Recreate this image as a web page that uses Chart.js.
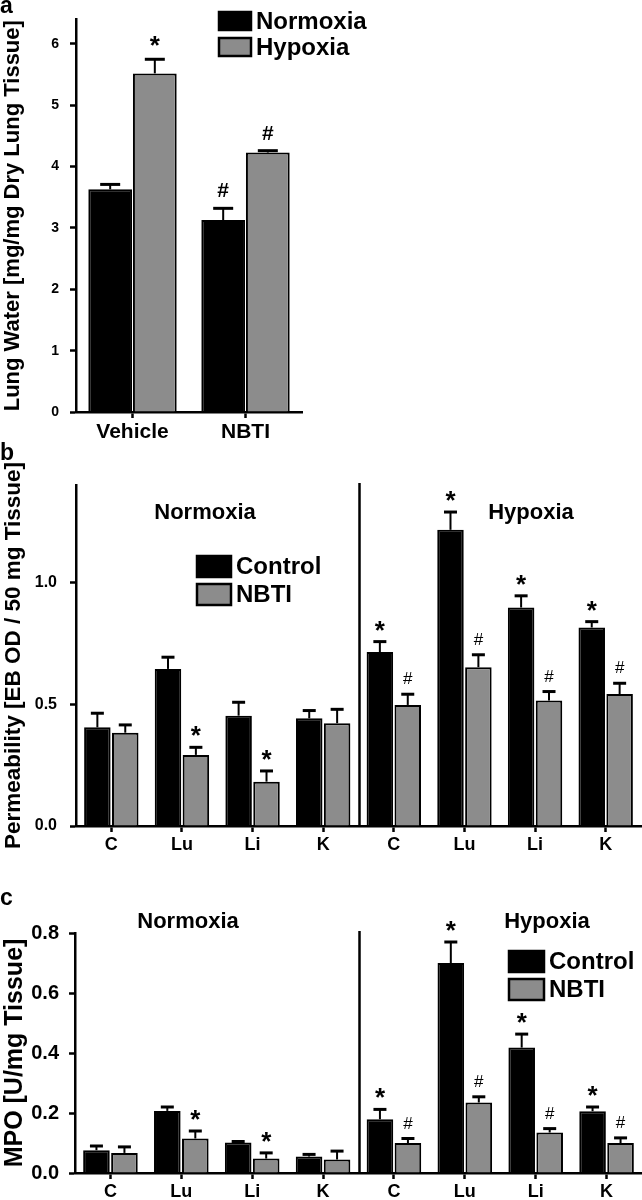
<!DOCTYPE html>
<html>
<head>
<meta charset="utf-8">
<script src="https://cdn.jsdelivr.net/npm/chart.js@4"></script>
<style>
  body { margin: 0; background: #fff; }
  #wrap { position: relative; width: 642px; height: 1200px; overflow: hidden; }
  canvas { position: absolute; left: 0; }
</style>
</head>
<body>
<div id="wrap">
  <canvas id="chartA" width="642" height="450" style="top:0"></canvas>
  <canvas id="chartB" width="642" height="430" style="top:440px"></canvas>
  <canvas id="chartC" width="642" height="320" style="top:880px"></canvas>
</div>
<script>
// a - lung water
const aGroups = ['Vehicle', 'NBTI'];
const aNormoxia = [3.63, 3.13];
const aNormoxiaErr = [0.08, 0.19];
const aHypoxia = [5.52, 4.23];
const aHypoxiaErr = [0.23, 0.03];
const aNormoxiaMarks = ['', '#'];
const aHypoxiaMarks = ['*', '#'];
const aTicks = [0, 1, 2, 3, 4, 5, 6];

// b - permeability
const organs = ['C', 'Lu', 'Li', 'K', 'C', 'Lu', 'Li', 'K'];
const bControl = [0.405, 0.645, 0.453, 0.442, 0.714, 1.216, 0.897, 0.815];
const bControlErr = [0.058, 0.048, 0.055, 0.032, 0.043, 0.073, 0.048, 0.024];
const bNbti = [0.383, 0.292, 0.182, 0.422, 0.497, 0.652, 0.515, 0.542];
const bNbtiErr = [0.032, 0.031, 0.044, 0.057, 0.044, 0.051, 0.037, 0.044];
const bControlMarks = ['', '', '', '', '*', '*', '*', '*'];
const bNbtiMarks = ['', '*', '*', '', '#', '#', '#', '#'];
const bTicks = [0, 0.5, 1.0];

// c - MPO
const cControl = [0.076, 0.207, 0.102, 0.055, 0.179, 0.70, 0.418, 0.206];
const cControlErr = [0.014, 0.013, 0.003, 0.007, 0.033, 0.07, 0.045, 0.014];
const cNbti = [0.067, 0.115, 0.048, 0.045, 0.10, 0.235, 0.135, 0.10];
const cNbtiErr = [0.02, 0.025, 0.019, 0.028, 0.015, 0.019, 0.013, 0.017];
const cControlMarks = ['', '', '', '', '*', '*', '*', '*'];
const cNbtiMarks = ['', '*', '*', '', '#', '#', '#', '#'];
const cTicks = [0, 0.2, 0.4, 0.6, 0.8];

const groupNames = ['Normoxia', 'Hypoxia'];
const FONT = '"Liberation Sans", Arial, Helvetica, sans-serif';
const BLACK = '#000000';
const GREY = '#8c8c8c';

Chart.defaults.font.family = FONT;
Chart.defaults.font.weight = 'bold';
Chart.defaults.color = '#000';

// error bars, * / # marks, legend boxes, panel letter, group labels
const extras = {
    id: 'extras',
    afterDatasetsDraw(chart, args, o) {
        const ctx = chart.ctx;
        const y = chart.scales.y;
        const x = chart.scales.x;
        ctx.save();
        ctx.strokeStyle = '#000';
        ctx.fillStyle = '#000';

        // separator between normoxia and hypoxia
        if (o.separator) {
            const sx = (x.getPixelForValue(3) + x.getPixelForValue(4)) / 2 + 1;
            ctx.lineWidth = 2.5;
            ctx.beginPath();
            ctx.moveTo(sx, chart.chartArea.top - 2);
            ctx.lineTo(sx, chart.chartArea.bottom);
            ctx.stroke();
        }

        chart.data.datasets.forEach((ds, i) => {
            const meta = chart.getDatasetMeta(i);
            meta.data.forEach((bar, j) => {
                const top = y.getPixelForValue(ds.data[j] + o.errors[i][j]);
                ctx.lineWidth = 2;
                ctx.beginPath();
                ctx.moveTo(bar.x, bar.y);
                ctx.lineTo(bar.x, top);
                ctx.stroke();
                ctx.lineWidth = 3;
                ctx.beginPath();
                ctx.moveTo(bar.x - o.capW / 2, top);
                ctx.lineTo(bar.x + o.capW / 2, top);
                ctx.stroke();

                const t = o.marks[i][j];
                if (t) {
                    ctx.font = t === '*' ? o.starFont : o.hashFont;
                    ctx.textAlign = 'center';
                    ctx.textBaseline = 'alphabetic';
                    const m = ctx.measureText(t);
                    const cy = top - o.markGap;
                    ctx.fillText(t, bar.x, cy + (m.actualBoundingBoxAscent - m.actualBoundingBoxDescent) / 2);
                }
            });
        });

        // legend
        const L = o.legend;
        ctx.font = 'bold ' + L.size + 'px ' + FONT;
        ctx.textAlign = 'left';
        ctx.textBaseline = 'middle';
        chart.data.datasets.forEach((ds, i) => {
            const by = L.y + i * L.step;
            ctx.fillStyle = ds.backgroundColor;
            ctx.fillRect(L.x, by, L.w, L.h);
            ctx.lineWidth = 2.5;
            ctx.strokeStyle = '#000';
            ctx.strokeRect(L.x, by, L.w, L.h);
            ctx.fillStyle = '#000';
            ctx.fillText(ds.label, L.x + L.w + 5, by + L.h / 2 + 1);
        });

        // group labels
        if (o.groups) {
            ctx.font = 'bold 22px ' + FONT;
            ctx.textAlign = 'center';
            o.groups.forEach(g => ctx.fillText(g.text, g.x, g.y));
        }

        // panel letter
        ctx.font = 'bold 23px ' + FONT;
        ctx.textAlign = 'left';
        ctx.textBaseline = 'alphabetic';
        ctx.fillText(o.letter, 0, o.letterY);
        ctx.restore();
    }
};

function axisX(size, height) {
    return {
        offset: true,
        grid: { display: true, drawOnChartArea: false, offset: false, tickLength: 6, tickWidth: 2.5, tickColor: '#000' },
        border: { display: true, color: '#000', width: 2.5 },
        ticks: { font: { size: size, weight: 'bold' }, padding: 2, color: '#000' },
        afterFit: s => { s.height = height; }
    };
}

function axisY(max, tickList, digits, tickSize, tickPad, title, titleSize, width) {
    return {
        min: 0,
        max: max,
        afterBuildTicks: s => { s.ticks = tickList.map(v => ({ value: v })); },
        grid: { display: true, drawOnChartArea: false, tickLength: 6, tickWidth: 2.5, tickColor: '#000' },
        border: { display: true, color: '#000', width: 2.5 },
        ticks: {
            font: { size: tickSize, weight: 'bold' },
            padding: tickPad,
            color: '#000',
            callback: v => Number(v).toFixed(digits)
        },
        title: { display: true, text: title, font: { size: titleSize, weight: 'bold' }, padding: 0, color: '#000' },
        afterFit: s => { s.width = width; }
    };
}

function bars(label, data, color, barPct) {
    return {
        label: label,
        data: data,
        backgroundColor: color,
        borderColor: '#000',
        borderWidth: 2,
        barPercentage: barPct,
        categoryPercentage: 0.79
    };
}

const common = {
    responsive: false,
    animation: false,
    events: [],
    plugins: { legend: { display: false }, tooltip: { enabled: false } }
};

// a
new Chart(document.getElementById('chartA'), {
    type: 'bar',
    data: {
        labels: aGroups,
        datasets: [
            bars('Normoxia', aNormoxia, BLACK, 0.98),
            bars('Hypoxia', aHypoxia, GREY, 0.98)
        ]
    },
    options: {
        ...common,
        layout: { padding: { top: 10, right: 340, left: 0, bottom: 0 } },
        scales: {
            x: axisX(21, 38),
            y: axisY(6.4, aTicks, 0, 14, 11, 'Lung Water [mg/mg Dry Lung Tissue]', 22, 76)
        },
        plugins: {
            ...common.plugins,
            extras: {
                errors: [aNormoxiaErr, aHypoxiaErr],
                marks: [aNormoxiaMarks, aHypoxiaMarks],
                starFont: 'bold 26px ' + FONT,
                hashFont: 'bold 21px ' + FONT,
                markGap: 18,
                capW: 20,
                legend: { x: 219, y: 12, w: 32, h: 18, step: 26, size: 24 },
                letter: 'a',
                letterY: 13
            }
        }
    },
    plugins: [extras]
});

// b
new Chart(document.getElementById('chartB'), {
    type: 'bar',
    data: {
        labels: organs,
        datasets: [
            bars('Control', bControl, BLACK, 0.95),
            bars('NBTI', bNbti, GREY, 0.95)
        ]
    },
    options: {
        ...common,
        layout: { padding: { top: 45, right: 1, left: 0, bottom: 0 } },
        scales: {
            x: axisX(18, 44),
            y: axisY(1.4, bTicks, 1, 16, 13, 'Permeability [EB OD / 50 mg Tissue]', 22.5, 76)
        },
        plugins: {
            ...common.plugins,
            extras: {
                errors: [bControlErr, bNbtiErr],
                marks: [bControlMarks, bNbtiMarks],
                starFont: 'bold 26px ' + FONT,
                hashFont: '17px ' + FONT,
                markGap: 16,
                capW: 13,
                separator: true,
                groups: [
                    { text: groupNames[0], x: 205, y: 73 },
                    { text: groupNames[1], x: 531, y: 73 }
                ],
                legend: { x: 197, y: 116, w: 34, h: 21, step: 28, size: 24 },
                letter: 'b',
                letterY: 20
            }
        }
    },
    plugins: [extras]
});

// c
new Chart(document.getElementById('chartC'), {
    type: 'bar',
    data: {
        labels: organs,
        datasets: [
            bars('Control', cControl, BLACK, 0.95),
            bars('NBTI', cNbti, GREY, 0.95)
        ]
    },
    options: {
        ...common,
        layout: { padding: { top: 53, right: 0, left: 0, bottom: 0 } },
        scales: {
            x: axisX(18, 27),
            y: axisY(0.8, cTicks, 1, 20, 10, 'MPO [U/mg Tissue]', 25, 75)
        },
        plugins: {
            ...common.plugins,
            extras: {
                errors: [cControlErr, cNbtiErr],
                marks: [cControlMarks, cNbtiMarks],
                starFont: 'bold 26px ' + FONT,
                hashFont: '17px ' + FONT,
                markGap: 16,
                capW: 13,
                separator: true,
                groups: [
                    { text: groupNames[0], x: 188, y: 42 },
                    { text: groupNames[1], x: 547, y: 42 }
                ],
                legend: { x: 509, y: 71, w: 35, h: 21, step: 28, size: 24 },
                letter: 'c',
                letterY: 25
            }
        }
    },
    plugins: [extras]
});
</script>
</body>
</html>
